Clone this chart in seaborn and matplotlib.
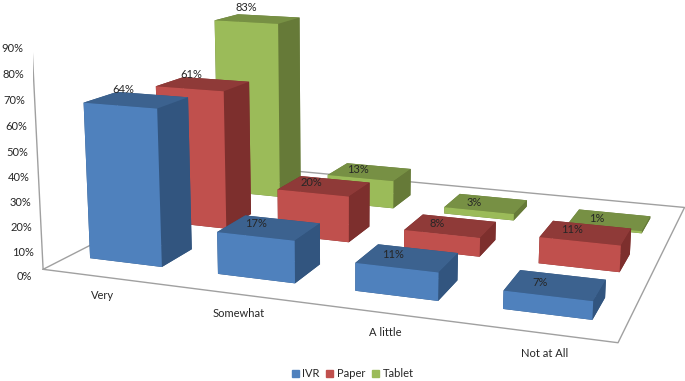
import numpy as np
import matplotlib
matplotlib.use('Agg')
import matplotlib.pyplot as plt
import seaborn as sns
from matplotlib.patches import Patch
from mpl_toolkits.mplot3d import proj3d

sns.set_theme(style='white')
plt.rcParams['font.family'] = ['Lato', 'DejaVu Sans']

categories = ['Very', 'Somewhat', 'A little', 'Not at All']
series = ['IVR', 'Paper', 'Tablet']
ivr = [64, 17, 11, 7]
paper = [61, 20, 8, 11]
tablet = [83, 13, 3, 1]
y_ticks = [0, 10, 20, 30, 40, 50, 60, 70, 80, 90]

# front, top, side shades per series
colors = ['#4F81BD', '#C0504D', '#9BBB59']
tops = ['#3C628F', '#8F3A38', '#779044']
sides = ['#32557F', '#7D2F2D', '#667A38']
line_col = '#A0A0A0'
txt_col = '#262626'

fig = plt.figure(figsize=(6.85, 3.81), dpi=100)
ax = fig.add_axes([33 / 685, -112 / 381, 700 / 685, 700 / 381], projection='3d', computed_zorder=False)
ax.patch.set_alpha(0)
ax.set_proj_type('persp', focal_length=0.348)
ax.view_init(elev=12.2, azim=-71, roll=-0.5)
ax.set_box_aspect((558, 454, 222))

x0, x1, y0, y1 = -0.45, 3.5, -0.55, 2.65
ax.set_xlim(x0, x1)
ax.set_ylim(y0, y1)
ax.set_zlim(0, 90)

# floor outline + left wall edge
ax.plot([x0, x1, x1, x0, x0], [y0, y0, y1, y1, y0], [0, 0, 0, 0, 0], color=line_col, lw=1, zorder=1)
ax.plot([x0, x0], [y0, y0], [0, 90], color=line_col, lw=1, zorder=1)

bw = 0.57
bd = 0.44
for s, vals in reversed(list(enumerate([ivr, paper, tablet]))):
    for c, v in reversed(list(enumerate(vals))):
        face_cols = [sides[s], tops[s], colors[s], sides[s], sides[s], sides[s]]
        ax.bar3d(c - bw / 2, s - bd / 2, 0, bw, bd, v, color=face_cols, shade=False,
                 edgecolor='none', zorder=20 + (3 - s) * 4 + (3 - c))

# data labels, projected by hand so they stay plain 2d text
M = ax.get_proj()
for s, vals in enumerate([ivr, paper, tablet]):
    for c, v in enumerate(vals):
        px, py, _ = proj3d.proj_transform(c - 0.10, s, v * 1.06, M)
        ax.text2D(px, py, f'{v}%', transform=ax.transData, fontsize=8, color=txt_col,
                  ha='center', va='center', zorder=60, clip_on=False)

ax.set_xticks(np.arange(4) + 0.08)
ax.set_xticklabels(categories, fontsize=8, color=txt_col)
ax.set_yticks([])
ax.set_zticks(y_ticks)
ax.set_zticklabels([f'{t}%' for t in y_ticks], fontsize=8, color=txt_col)
ax.zaxis.set_ticks_position('lower')
for axis in (ax.xaxis, ax.yaxis, ax.zaxis):
    axis.set_pane_color((1, 1, 1, 0))
    axis.pane.set_edgecolor((1, 1, 1, 0))
    axis._axinfo['grid']['color'] = (0, 0, 0, 0)
    axis.line.set_color((1, 1, 1, 0))
    axis._axinfo['tick']['inward_factor'] = 0
    axis._axinfo['tick']['outward_factor'] = 0
ax.tick_params(axis='x', pad=0.5)
ax.tick_params(axis='z', pad=-1.5)

handles = [Patch(color=c, label=s) for c, s in zip(colors, series)]
fig.legend(handles=handles, loc='lower center', ncol=3, frameon=False, fontsize=8,
           bbox_to_anchor=(0.515, -0.022), handlelength=0.6, handleheight=0.6,
           columnspacing=0.6, handletextpad=0.35, labelcolor=txt_col)
fig.savefig('out.png', dpi=100, facecolor='white')
